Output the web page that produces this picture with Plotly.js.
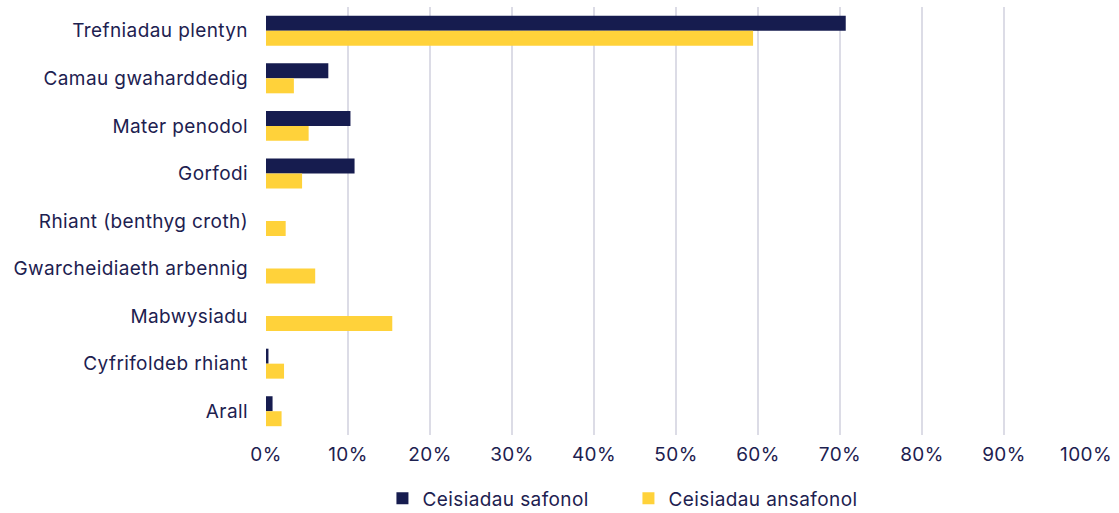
<!DOCTYPE html>
<html>
<head>
<meta charset="utf-8">
<script src="https://cdn.plot.ly/plotly-3.0.1.min.js"></script>
<style>
html,body{margin:0;padding:0;background:#fff;}
#chart{width:1119px;height:513px;}
#chart text{letter-spacing:0.4px;}
</style>
</head>
<body>
<div id="chart"></div>
<script>
const categories = ["Trefniadau plentyn","Camau gwaharddedig","Mater penodol","Gorfodi","Rhiant (benthyg croth)","Gwarcheidiaeth arbennig","Mabwysiadu","Cyfrifoldeb rhiant","Arall"];
const safonol = [70.7, 7.6, 10.3, 10.8, 0, 0, 0, 0.3, 0.8];
const ansafonol = [59.4, 3.4, 5.2, 4.4, 2.4, 6.0, 15.4, 2.2, 1.9];
const seriesNames = ["Ceisiadau safonol","Ceisiadau ansafonol"];
const tickVals = [0,10,20,30,40,50,60,70,80,90,100];
const tickText = ["0%","10%","20%","30%","40%","50%","60%","70%","80%","90%","100%"];

const navy = "#161c4f";
const yellow = "#ffd23a";
const textColor = "#1d2150";
const fontFam = "Inter, 'Noto Sans', sans-serif";

const data = [
  {type:"bar", orientation:"h", name:seriesNames[0], y:categories, x:safonol, marker:{color:navy}, hoverinfo:"x+name"},
  {type:"bar", orientation:"h", name:seriesNames[1], y:categories, x:ansafonol, marker:{color:yellow}, hoverinfo:"x+name"}
];
const layout = {
  width:1119, height:513,
  margin:{l:266, r:33, t:7, b:78, autoexpand:false},
  paper_bgcolor:"#fff", plot_bgcolor:"#fff",
  font:{family:fontFam, size:19, color:textColor},
  barmode:"group", bargap:0.37, bargroupgap:0,
  xaxis:{range:[0,100], tickvals:tickVals, ticktext:tickText, showgrid:true, gridcolor:"#dcdce6", gridwidth:2, zeroline:false, showline:false, ticks:"", ticklabelstandoff:6, fixedrange:true, tickfont:{size:19, color:textColor}},
  yaxis:{autorange:"reversed", showgrid:false, zeroline:false, showline:false, ticks:"", ticklabelstandoff:17, fixedrange:true, tickfont:{size:19, color:textColor}},
  showlegend:true,
  legend:{orientation:"h", x:0.142, xanchor:"left", y:-0.104, yanchor:"top", font:{size:19, color:textColor}, traceorder:"normal", entrywidth:201, itemwidth:30}
};
Plotly.newPlot("chart", data, layout, {displayModeBar:false, staticPlot:true});
</script>
</body>
</html>
